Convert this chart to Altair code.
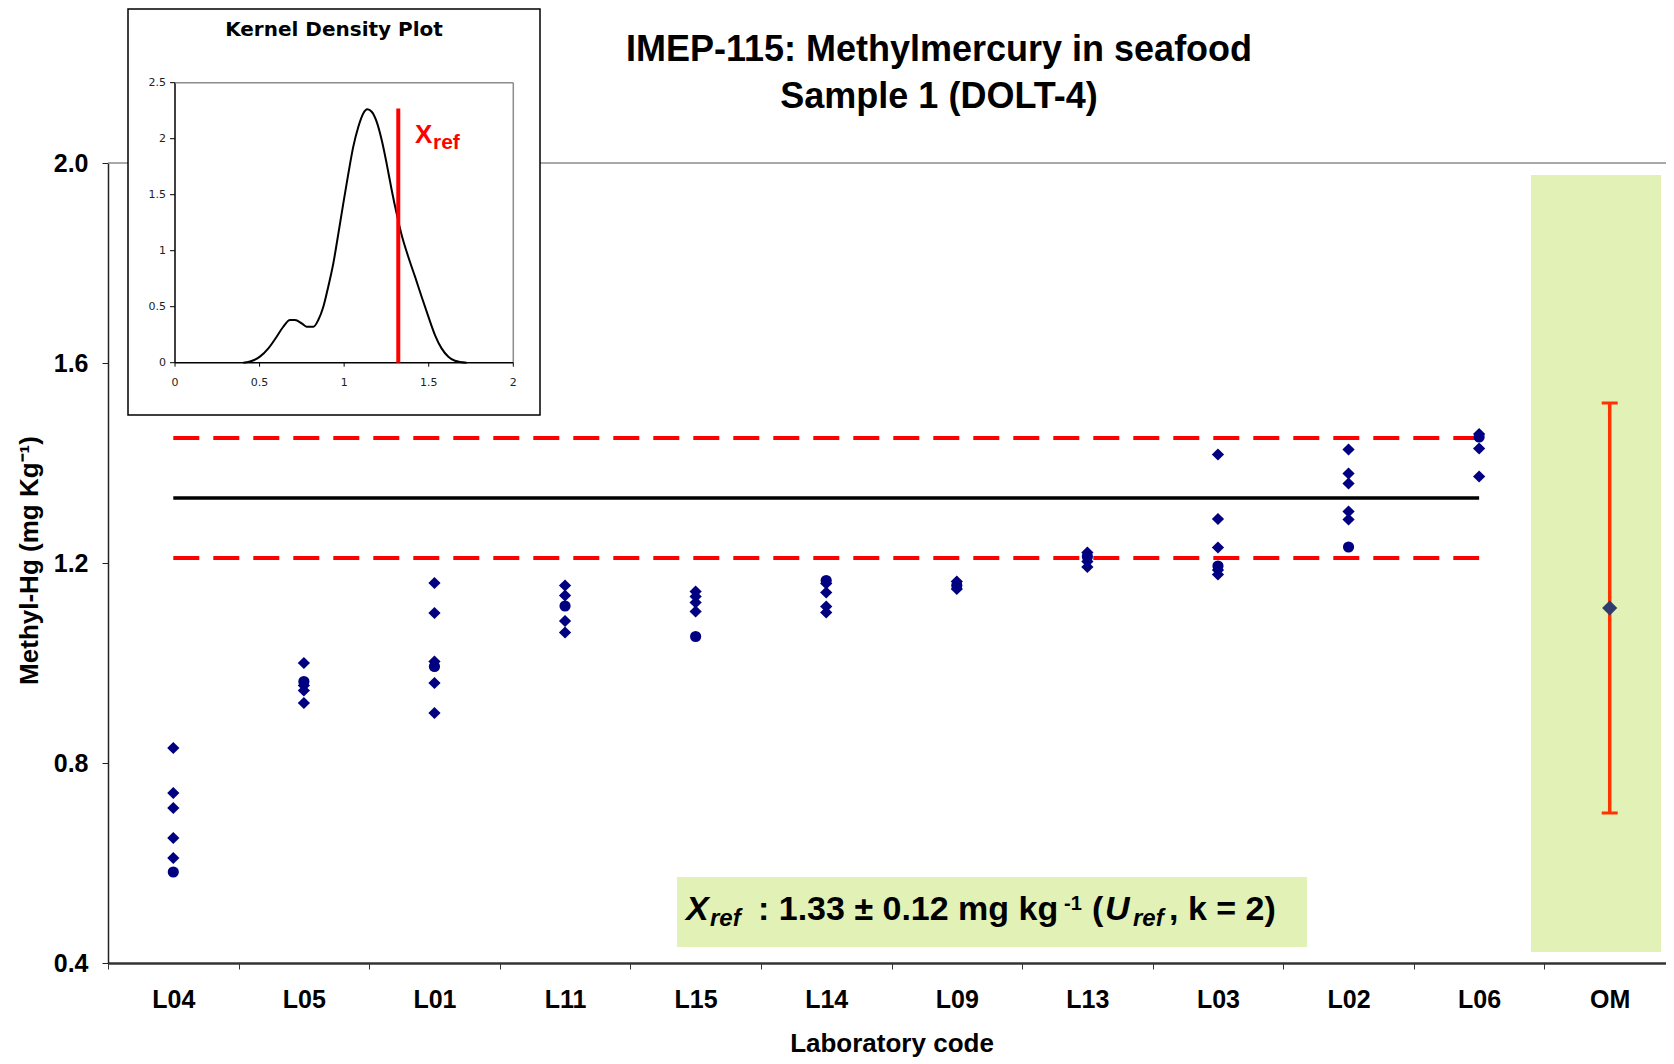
import altair as alt
import pandas as pd

# ---------------- data ----------------
labs = ["L04", "L05", "L01", "L11", "L15", "L14", "L09", "L13", "L03", "L02", "L06", "OM"]
point_labs = ["L04", "L05", "L01", "L11", "L15", "L14", "L09", "L13", "L03", "L02", "L06"]
diamond_values = [
    [0.83, 0.74, 0.71, 0.65, 0.61],
    [1.00, 0.955, 0.945, 0.92],
    [1.16, 1.10, 1.003, 0.96, 0.90],
    [1.155, 1.135, 1.084, 1.061],
    [1.143, 1.133, 1.121, 1.103],
    [1.159, 1.141, 1.113, 1.101],
    [1.163, 1.148],
    [1.221, 1.203, 1.192],
    [1.417, 1.288, 1.231, 1.186, 1.177],
    [1.427, 1.379, 1.359, 1.303, 1.287],
    [1.458, 1.429, 1.373],
]
circle_values = [0.582, 0.963, 0.993, 1.114, 1.053, 1.165, 1.155, 1.213, 1.194, 1.232, 1.452]

x_ref = 1.33
u_ref = 0.12
om_lab = "OM"
om_mean = 1.11
om_low = 0.70
om_high = 1.52

y_ticks = [0.4, 0.8, 1.2, 1.6, 2.0]

kde_x = [0.404, 0.453, 0.502, 0.552, 0.601, 0.640, 0.680, 0.709, 0.749, 0.778, 0.818,
         0.847, 0.877, 0.906, 0.936, 0.966, 0.995, 1.025, 1.054, 1.084, 1.113, 1.137,
         1.163, 1.192, 1.222, 1.251, 1.281, 1.310, 1.340, 1.379, 1.419, 1.458, 1.498,
         1.537, 1.576, 1.616, 1.655, 1.724]
kde_y = [0.0, 0.015, 0.054, 0.128, 0.232, 0.321, 0.381, 0.381, 0.351, 0.321, 0.321,
         0.381, 0.50, 0.679, 0.887, 1.155, 1.423, 1.690, 1.929, 2.107, 2.226, 2.262,
         2.241, 2.152, 1.988, 1.780, 1.542, 1.333, 1.140, 0.946, 0.768, 0.589, 0.411,
         0.247, 0.128, 0.054, 0.018, 0.0]
kde_y_ticks = [0, 0.5, 1, 1.5, 2, 2.5]
kde_y_labels = ["0", "0.5", "1", "1.5", "2", "2.5"]
kde_x_ticks = [0, 0.5, 1, 1.5, 2]
kde_x_labels = ["0", "0.5", "1", "1.5", "2"]
kde_xref = 1.32
kde_xref_top = 2.27

title_lines = ["IMEP-115: Methylmercury in seafood", "Sample 1 (DOLT-4)"]

# ---------------- styles ----------------
FONT = "Liberation Sans, Arial, sans-serif"
VFONT = "DejaVu Sans, Verdana, sans-serif"
NAVY = "#000080"
RED = "#FF0000"
GREEN = "#E2F1B6"

one = pd.DataFrame({"k": [0]})

xs = alt.Scale(type="band", domain=labs, range=[0, 1567], paddingInner=0, paddingOuter=0)
ys = alt.Scale(domain=[0.4, 2.0], nice=False, zero=False)

x_axis = alt.Axis(
    title="Laboratory code", labelAngle=0, labelAlign="center", tickBand="extent", tickSize=6,
    tickColor="#333333", domainColor="#333333", domainWidth=2.5,
    labelFont=FONT, labelFontSize=25, labelFontWeight="bold", labelColor="#000000",
    labelPadding=30, titleFont=FONT, titleFontSize=26, titleFontWeight="bold",
    titleColor="#000000", titleY=80, titleBaseline="middle", grid=False,
)
y_axis = alt.Axis(
    title="Methyl-Hg (mg Kg\u207b\u00b9)", values=y_ticks, format=".1f", tickSize=6,
    tickColor="#222222", domainColor="#222222", domainWidth=1.5,
    labelFont=FONT, labelFontSize=25, labelFontWeight="bold", labelColor="#000000",
    labelPadding=14, titleFont=FONT, titleFontSize=26, titleFontWeight="bold",
    titleColor="#000000", titleX=-79, titleY=397, titleAngle=270,
    titleAlign="center", titleBaseline="middle", grid=False,
)

pts_d = pd.DataFrame([{"lab": lab, "value": v}
                      for lab, vals in zip(point_labs, diamond_values) for v in vals])
pts_c = pd.DataFrame({"lab": point_labs, "value": circle_values})
line_ref = pd.DataFrame({"lab": [point_labs[0], point_labs[-1]], "value": [x_ref, x_ref]})
line_hi = pd.DataFrame({"lab": [point_labs[0], point_labs[-1]], "value": [x_ref + u_ref] * 2})
line_lo = pd.DataFrame({"lab": [point_labs[0], point_labs[-1]], "value": [x_ref - u_ref] * 2})
om_df = pd.DataFrame({"lab": [om_lab], "value": [om_mean], "lo": [om_low], "hi": [om_high]})
om_caps = pd.DataFrame({"lab": [om_lab, om_lab], "value": [om_low, om_high]})
top_df = pd.DataFrame({"value": [2.0]})

# ---------------- main plot ----------------
green_box = alt.Chart(one).mark_rect(fill=GREEN).encode(
    x=alt.value(1423), x2=alt.value(1553), y=alt.value(12), y2=alt.value(789))
annot_box = alt.Chart(one).mark_rect(fill=GREEN).encode(
    x=alt.value(569), x2=alt.value(1199), y=alt.value(714), y2=alt.value(784))


def txt(s, x, y, size, style="normal", align="left", color="#000000", font=FONT, weight="bold"):
    return alt.Chart(one).mark_text(
        text=s, font=font, fontSize=size, fontWeight=weight, fontStyle=style,
        align=align, baseline="alphabetic", color=color,
    ).encode(x=alt.value(x), y=alt.value(y))


annot_texts = [
    txt("X", 578, 757, 34, "italic"),
    txt("ref", 602, 763, 24, "italic"),
    txt(": 1.33 \u00b1 0.12 mg kg", 650, 757, 34),
    txt("-1", 956, 747, 20),
    txt("(", 984, 757, 34),
    txt("U", 997, 757, 34, "italic"),
    txt("ref", 1025, 763, 24, "italic"),
    txt(", k = 2)", 1061, 757, 34),
]

top_rule = alt.Chart(top_df).mark_rule(color="#8C8C8C", strokeWidth=1.5).encode(
    y=alt.Y("value:Q", scale=ys), x=alt.value(0), x2=alt.value(1567))

ref_line = alt.Chart(line_ref).mark_line(color="#000000", strokeWidth=3.5).encode(
    x=alt.X("lab:N", scale=xs, axis=x_axis), y=alt.Y("value:Q", scale=ys, axis=y_axis))
hi_line = alt.Chart(line_hi).mark_line(color=RED, strokeWidth=4, strokeDash=[26, 14]).encode(
    x=alt.X("lab:N", scale=xs), y=alt.Y("value:Q", scale=ys))
lo_line = alt.Chart(line_lo).mark_line(color=RED, strokeWidth=4, strokeDash=[26, 14]).encode(
    x=alt.X("lab:N", scale=xs), y=alt.Y("value:Q", scale=ys))

diamonds = alt.Chart(pts_d).mark_point(shape="diamond", filled=True, size=150,
                                       color=NAVY, opacity=1).encode(
    x=alt.X("lab:N", scale=xs), y=alt.Y("value:Q", scale=ys))
circles = alt.Chart(pts_c).mark_point(shape="circle", filled=True, size=125,
                                      color=NAVY, opacity=1).encode(
    x=alt.X("lab:N", scale=xs), y=alt.Y("value:Q", scale=ys))

om_bar = alt.Chart(om_df).mark_rule(color="#FF3300", strokeWidth=3.5).encode(
    x=alt.X("lab:N", scale=xs), y=alt.Y("lo:Q", scale=ys), y2="hi:Q")
om_tick = alt.Chart(om_caps).mark_tick(color="#FF3300", orient="horizontal",
                                       size=16, thickness=3, opacity=1).encode(
    x=alt.X("lab:N", scale=xs), y=alt.Y("value:Q", scale=ys))
om_pt = alt.Chart(om_df).mark_point(shape="diamond", filled=True, size=230,
                                    color="#2E3D6B", opacity=1).encode(
    x=alt.X("lab:N", scale=xs), y=alt.Y("value:Q", scale=ys))

title1 = txt(title_lines[0], 831, -102, 36, align="center")
title2 = txt(title_lines[1], 831, -55, 36, align="center")

main = alt.layer(green_box, annot_box, *annot_texts, top_rule, hi_line, lo_line, ref_line,
                 diamonds, circles, om_bar, om_tick, om_pt, title1, title2)

# ---------------- inset: kernel density ----------------
ixs = alt.Scale(domain=[0, 2], range=[67, 405.3], nice=False, zero=False)
iys = alt.Scale(domain=[0, 2.5], range=[199.7, -80.3], nice=False, zero=False)

kde_df = pd.DataFrame({"x": kde_x, "y": kde_y})
vrules = pd.DataFrame({"x": [0, 2], "y1": [0, 0], "y2": [2.5, 2.5], "c": ["#000000", "#8C8C8C"]})
hrules = pd.DataFrame({"y": [0, 2.5], "x1": [0, 0], "x2": [2, 2], "c": ["#000000", "#8C8C8C"]})
ytk = pd.DataFrame({"t": kde_y_ticks, "lbl": kde_y_labels})
xtk = pd.DataFrame({"t": kde_x_ticks, "lbl": kde_x_labels})
xref_df = pd.DataFrame({"x": [kde_xref], "y1": [0.0], "y2": [kde_xref_top]})

inset_box = alt.Chart(one).mark_rect(fill="#FFFFFF", stroke="#000000", strokeWidth=1.5).encode(
    x=alt.value(20), x2=alt.value(432), y=alt.value(-154), y2=alt.value(252))
inset_title = txt("Kernel Density Plot", 226, -127, 20, align="center", font=VFONT)

v_layer = alt.Chart(vrules).mark_rule(strokeWidth=1.5).encode(
    x=alt.X("x:Q", scale=ixs, axis=None), y=alt.Y("y1:Q", scale=iys, axis=None), y2="y2:Q",
    color=alt.Color("c:N", scale=None))
h_layer = alt.Chart(hrules).mark_rule(strokeWidth=1.5).encode(
    y=alt.Y("y:Q", scale=iys, axis=None), x=alt.X("x1:Q", scale=ixs, axis=None), x2="x2:Q",
    color=alt.Color("c:N", scale=None))
ytick_marks = alt.Chart(ytk).mark_rule(color="#000000", strokeWidth=1).encode(
    y=alt.Y("t:Q", scale=iys, axis=None), x=alt.value(62), x2=alt.value(67))
xtick_marks = alt.Chart(xtk).mark_rule(color="#000000", strokeWidth=1).encode(
    x=alt.X("t:Q", scale=ixs, axis=None), y=alt.value(199.7), y2=alt.value(203.7))
ytick_lbls = alt.Chart(ytk).mark_text(font=VFONT, fontSize=11, color="#222222",
                                      align="right", baseline="middle").encode(
    y=alt.Y("t:Q", scale=iys, axis=None), x=alt.value(58), text="lbl:N")
xtick_lbls = alt.Chart(xtk).mark_text(font=VFONT, fontSize=11, color="#222222",
                                      align="center", baseline="middle").encode(
    x=alt.X("t:Q", scale=ixs, axis=None), y=alt.value(220), text="lbl:N")
kde_line = alt.Chart(kde_df).mark_line(color="#000000", strokeWidth=2,
                                       interpolate="monotone").encode(
    x=alt.X("x:Q", scale=ixs, axis=None), y=alt.Y("y:Q", scale=iys, axis=None))
xref_line = alt.Chart(xref_df).mark_rule(color=RED, strokeWidth=4).encode(
    x=alt.X("x:Q", scale=ixs, axis=None), y=alt.Y("y1:Q", scale=iys, axis=None), y2="y2:Q")
xref_lbl1 = txt("X", 307, -20, 26, color=RED)
xref_lbl2 = txt("ref", 325, -14, 21, color=RED)

inset = alt.layer(inset_box, inset_title, v_layer, h_layer, ytick_marks, xtick_marks,
                  ytick_lbls, xtick_lbls, kde_line, xref_line, xref_lbl1, xref_lbl2)

chart = alt.layer(main, inset).resolve_scale(x="independent", y="independent").properties(
    width=1558, height=800,
    padding={"left": 100, "top": 155, "right": 0, "bottom": 95},
    autosize=alt.AutoSizeParams(type="none"),
    background="#FFFFFF",
).configure_view(stroke=None)

chart.save("out.html", embed_options={"renderer": "svg", "actions": False})
